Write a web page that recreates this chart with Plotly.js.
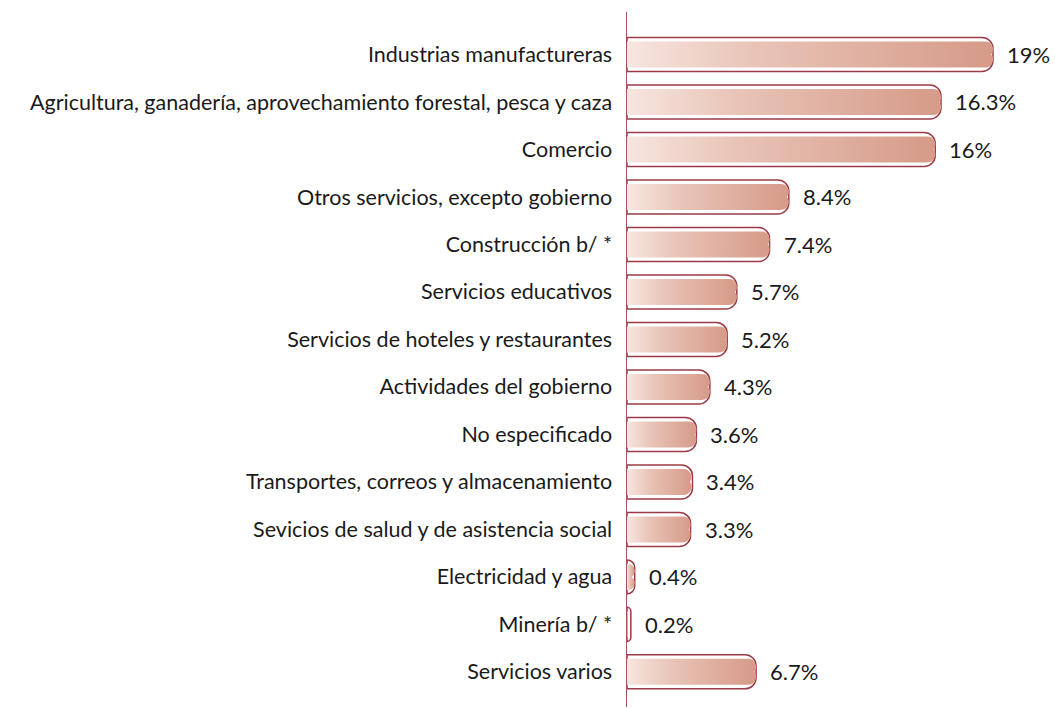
<!DOCTYPE html>
<html>
<head>
<meta charset="utf-8">
<script src="https://cdn.plot.ly/plotly-3.0.1.min.js"></script>
<style>
  html, body { margin: 0; padding: 0; background: #ffffff; }
  #chart { width: 1055px; height: 708px; }
</style>
</head>
<body>
<div id="chart"></div>
<script>
// ---- data ----
const categories = [
  "Industrias manufactureras",
  "Agricultura, ganadería, aprovechamiento forestal, pesca y caza",
  "Comercio",
  "Otros servicios, excepto gobierno",
  "Construcción b/ *",
  "Servicios educativos",
  "Servicios de hoteles y restaurantes",
  "Actividades del gobierno",
  "No especificado",
  "Transportes, correos y almacenamiento",
  "Sevicios de salud y de asistencia social",
  "Electricidad y agua",
  "Minería b/ *",
  "Servicios varios"
];
const values = [19, 16.3, 16, 8.4, 7.4, 5.7, 5.2, 4.3, 3.6, 3.4, 3.3, 0.4, 0.2, 6.7];
const valueLabels = values.map(v => String(v) + "%");

// ---- styling ----
const FONT = "Lato, 'Open Sans', sans-serif";
const TEXT = "#1a1a1a";
const OUTLINE = "#9c3b47";
const AXIS = "#a4535c";
const PX_PER_UNIT = 418 / 21.7;
const INSET = 3 / PX_PER_UNIT;

const outer = {
  type: "bar",
  orientation: "h",
  y: categories,
  x: values,
  width: 0.716,
  marker: { color: "#ffffff", line: { color: OUTLINE, width: 1.5 }, cornerradius: 11 },
  hoverinfo: "skip"
};
const inner = {
  type: "bar",
  orientation: "h",
  y: categories,
  x: values.map(v => Math.max(v - INSET, 0)),
  width: 0.547,
  marker: { color: "#e2b3a4", line: { width: 0 }, cornerradius: 8 },
  hoverinfo: "skip"
};

const annotations = categories.map((c, i) => ({
  x: values[i], y: c, xref: "x", yref: "y",
  text: valueLabels[i], showarrow: false,
  xanchor: "left", yanchor: "middle", xshift: 12,
  font: { family: FONT, size: 22, color: TEXT }
}));

const layout = {
  width: 1055, height: 708,
  margin: { l: 627, r: 10, t: 12, b: 1 },
  paper_bgcolor: "#ffffff", plot_bgcolor: "#ffffff",
  barmode: "overlay",
  showlegend: false,
  hovermode: false,
  xaxis: { range: [0, 21.7], visible: false, fixedrange: true },
  yaxis: {
    type: "category",
    categoryorder: "array", categoryarray: categories,
    range: [13.74, -0.895],
    showline: true, linecolor: AXIS, linewidth: 1.5,
    showgrid: false, zeroline: false, ticks: "",
    ticklabelstandoff: 9,
    tickfont: { family: FONT, size: 21.5, color: TEXT },
    fixedrange: true
  },
  annotations: annotations
};

const gd = document.getElementById("chart");
Plotly.newPlot(gd, [outer, inner], layout, { displayModeBar: false, staticPlot: true }).then(() => {
  const svg = gd.querySelector("svg.main-svg");
  const ns = "http://www.w3.org/2000/svg";
  let defs = svg.querySelector("defs");
  if (!defs) { defs = document.createElementNS(ns, "defs"); svg.insertBefore(defs, svg.firstChild); }
  const grad = document.createElementNS(ns, "linearGradient");
  grad.setAttribute("id", "barGrad");
  grad.setAttribute("x1", "0"); grad.setAttribute("y1", "0");
  grad.setAttribute("x2", "1"); grad.setAttribute("y2", "0");
  [["0", "#f7e6e0"], ["0.35", "#e8c4b7"], ["1", "#d69a88"]].forEach(([o, c]) => {
    const s = document.createElementNS(ns, "stop");
    s.setAttribute("offset", o); s.setAttribute("stop-color", c);
    grad.appendChild(s);
  });
  defs.appendChild(grad);
  const traces = gd.querySelectorAll(".barlayer .trace");
  if (traces[1]) {
    traces[1].querySelectorAll("path").forEach(p => { p.style.fill = "url(#barGrad)"; });
  }
});
</script>
</body>
</html>
